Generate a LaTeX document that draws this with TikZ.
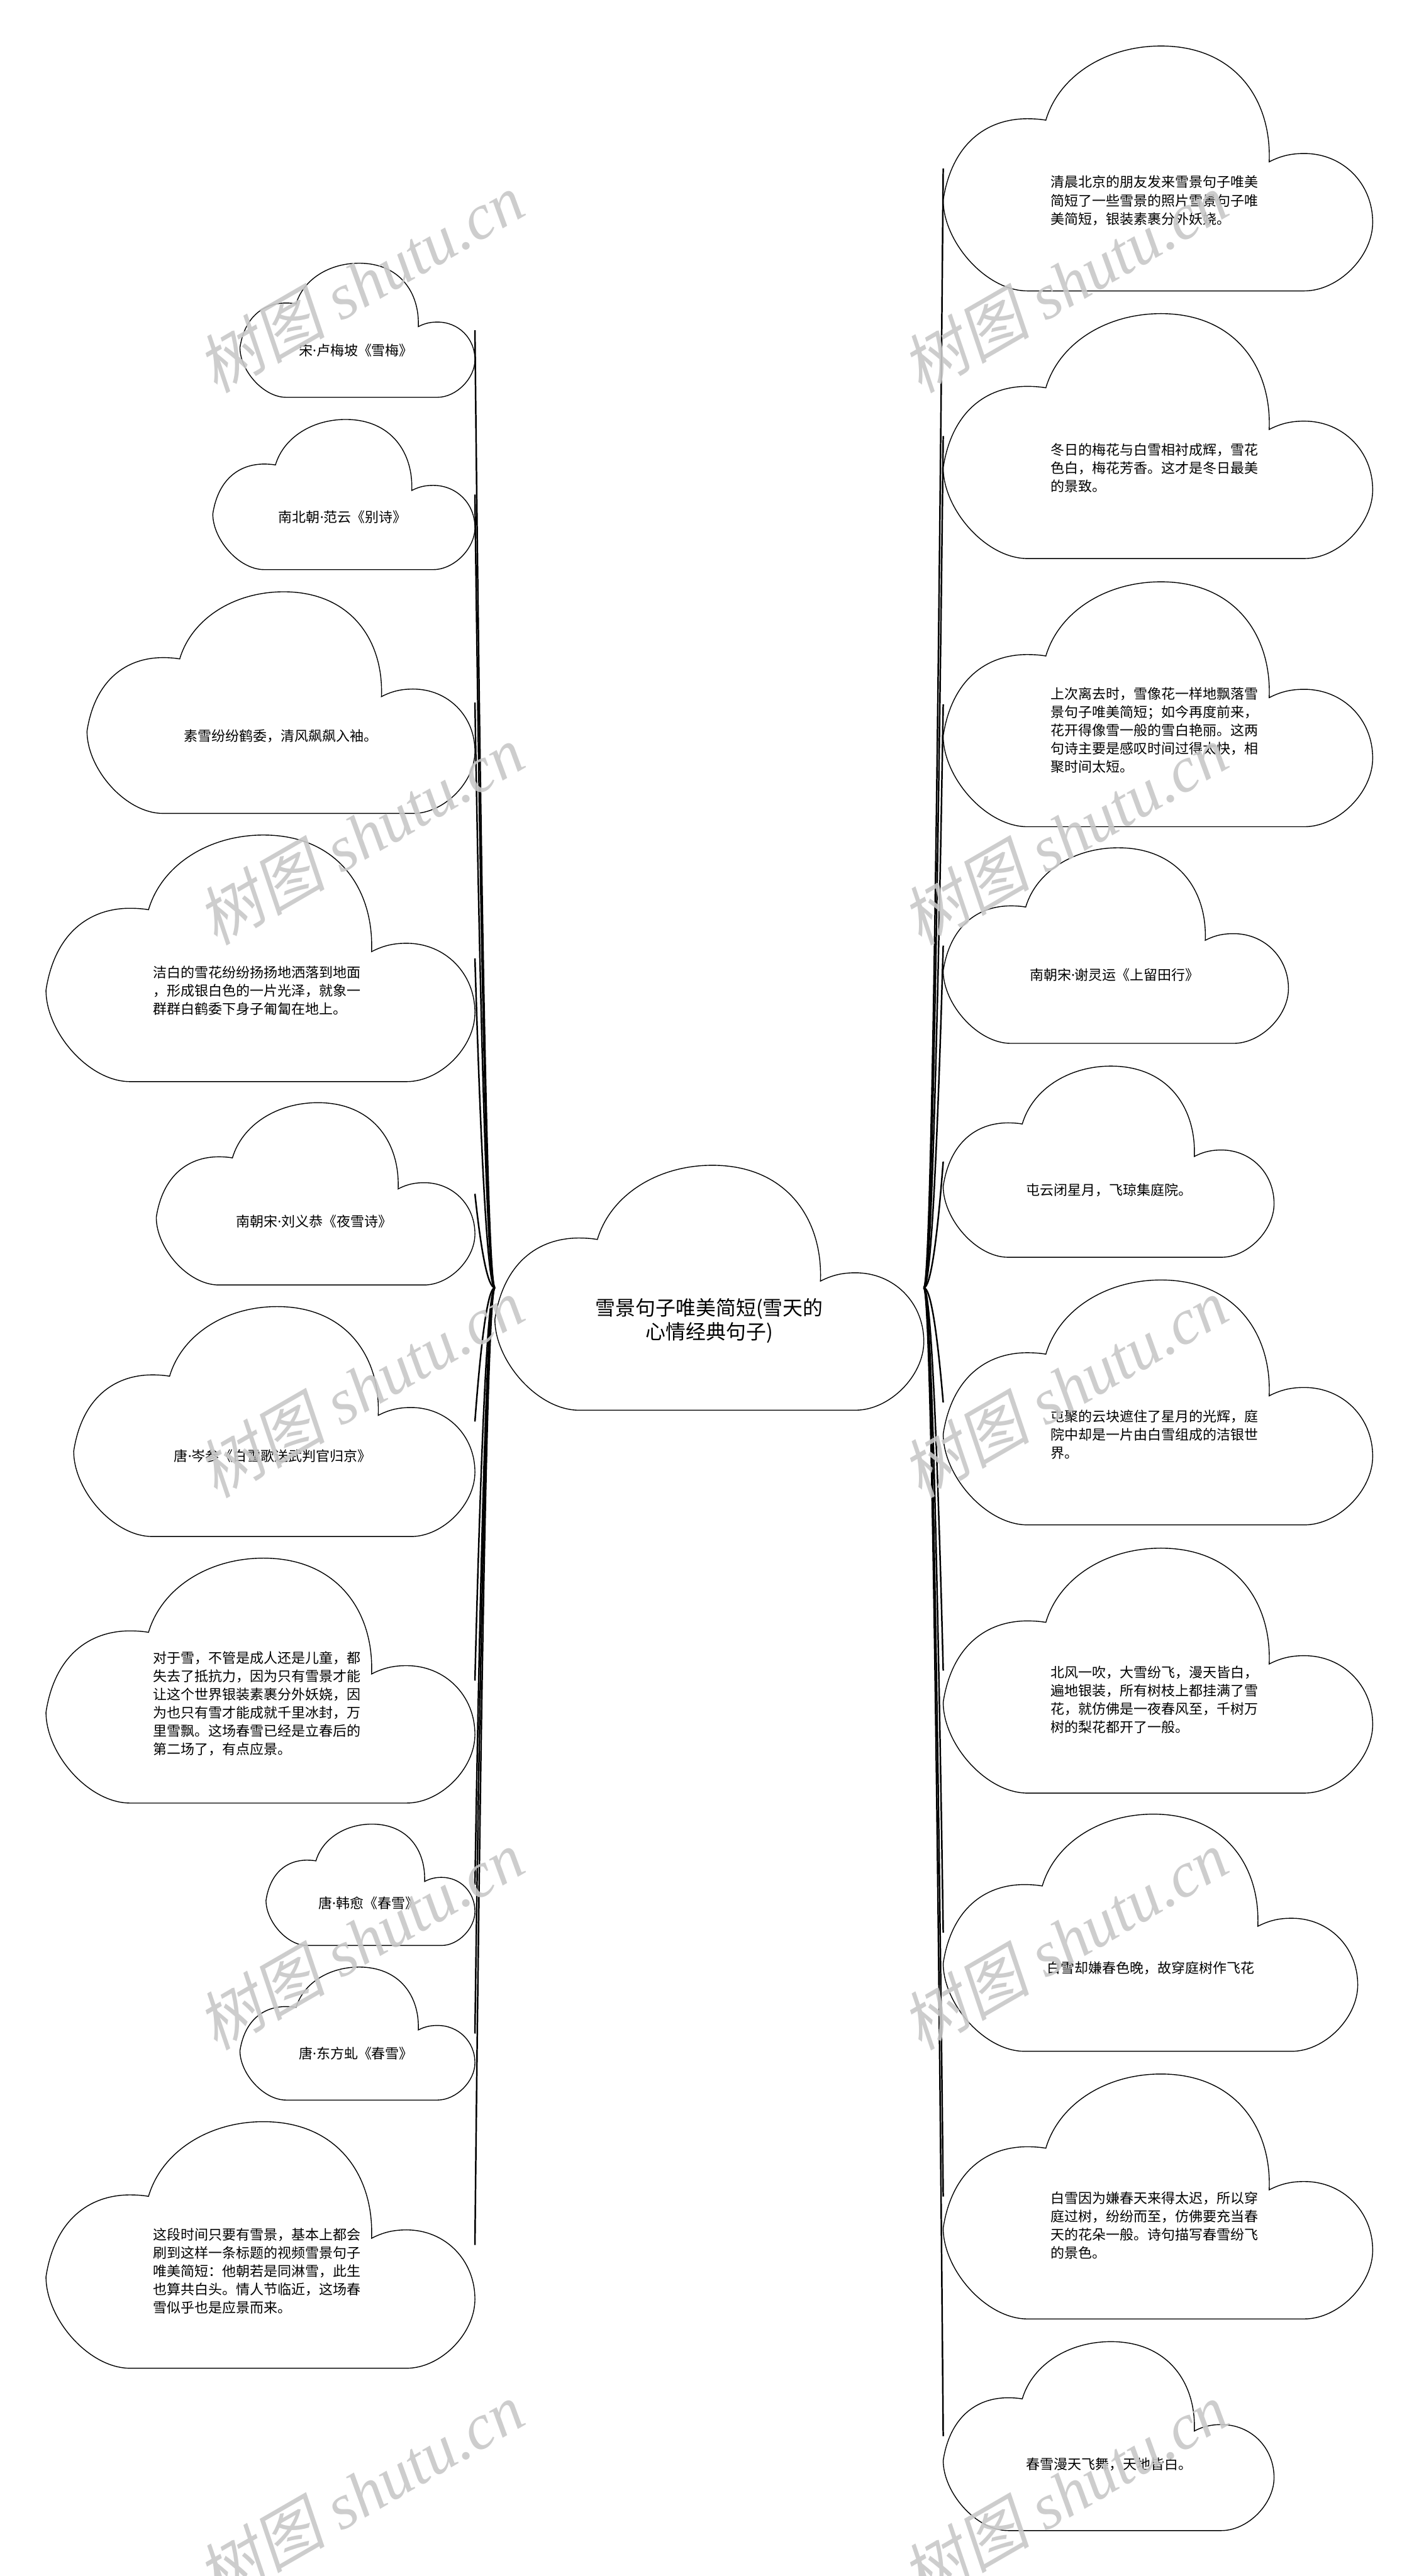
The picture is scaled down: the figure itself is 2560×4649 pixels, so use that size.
\documentclass[tikz,border=0pt]{standalone}
\usepackage{fontspec}
\setmainfont{Noto Sans CJK SC}
\newfontfamily\wmcjk[FakeSlant=0.2]{Noto Sans CJK SC}
\newfontfamily\wmlat{Liberation Serif}
\newfontfamily\latinf{Noto Sans}
\newcommand\md{{\latinf ·}}
\usetikzlibrary{calc}
\definecolor{wmgray}{RGB}{200,200,200}
\tikzset{
  cloudline/.style={draw=black, line width=0.9pt, fill=white},
  boxnode/.style={rectangle, draw=none, inner sep=0pt, outer sep=0pt},
  txt/.style={inner sep=0pt, align=left, font=\fontsize{14.2pt}{18.8pt}\selectfont},
  ctxt/.style={inner sep=0pt, align=center, font=\fontsize{20.6pt}{24.5pt}\selectfont},
  conn/.style={draw=black, line width=1.6pt},
  wm/.style={text=wmgray, inner sep=0pt, font=\fontsize{66pt}{70pt}\selectfont, rotate=30, opacity=0.9},
}
\newcommand\cloudpath{(0.239,0.303) .. controls (0.27,0.12) and (0.38,0) .. (0.507,0)
      .. controls (0.68,0) and (0.765,0.22) .. (0.759,0.473)
      .. controls (0.79,0.445) and (0.815,0.439) .. (0.841,0.439)
      .. controls (0.93,0.439) and (1,0.56) .. (1,0.72)
      .. controls (1,0.86) and (0.92,1) .. (0.841,1)
      -- (0.196,1)
      .. controls (0.1,1) and (0,0.8) .. (0,0.629)
      .. controls (0.02,0.40) and (0.1,0.297) .. (0.196,0.297)
      .. controls (0.215,0.297) and (0.23,0.3) .. (0.239,0.303) -- cycle}
% name, x1, y1, x2, y2, v, text
\newcommand\mycloud[7]{%
  \begin{scope}[shift={(#2,#3)},xscale=#4-#2,yscale=#5-#3]
    \draw[cloudline] \cloudpath;
  \end{scope}
  \node[boxnode,minimum width={(#4-#2)*0.02cm},minimum height={(#5-#3)*0.02cm}] (#1) at ({(#2+#4)/2},{(#3+#5)/2}) {};
  \node[txt,anchor=west] (#1t) at ({#2+0.25*(#4-#2)},{#3+#6*(#5-#3)}) {#7};
}
\newcommand\myconn[2]{%
  \coordinate (q) at ($(#1)!0.5!(#1 -| #2)$);
  \draw[conn] (#1) .. controls ($(#1)!0.6667!(q)$) and ($(#2)!0.6667!(q)$) .. (#2);
}
\begin{document}
\begin{tikzpicture}[x=0.02cm,y=-0.02cm]
\useasboundingbox (0,0) rectangle (2560,4649);
\fill[white] (0,0) rectangle (2560,4649);

% central
\begin{scope}[shift={(893,2103)},xscale=774,yscale=442]
  \draw[cloudline] \cloudpath;
\end{scope}
\node[boxnode,minimum width=15.48cm,minimum height=8.84cm] (C) at (1280,2324) {};
\node[ctxt] (Ct) at ({893+0.5*774},{2103+0.634*442}) {雪景句子唯美简短(雪天的\\心情经典句子)};

% left
\mycloud{L1}{433}{475}{857}{717}{0.65}{宋\md 卢梅坡《雪梅》}
\mycloud{L2}{384}{757}{857}{1028}{0.65}{南北朝\md 范云《别诗》}
\mycloud{L3}{157}{1068}{857}{1468}{0.65}{素雪纷纷鹤委，清风飙飙入袖。}
\mycloud{L4}{83}{1507}{857}{1952}{0.631}{洁白的雪花纷纷扬扬地洒落到地面\\，形成银白色的一片光泽，就象一\\群群白鹤委下身子匍匐在地上。}
\mycloud{L5}{282}{1990}{857}{2319}{0.65}{南朝宋\md 刘义恭《夜雪诗》}
\mycloud{L6}{133}{2358}{857}{2773}{0.65}{唐\md 岑参《白雪歌送武判官归京》}
\mycloud{L7}{83}{2812}{857}{3254}{0.594}{对于雪，不管是成人还是儿童，都\\失去了抵抗力，因为只有雪景才能\\让这个世界银装素裹分外妖娆，因\\为也只有雪才能成就千里冰封，万\\里雪飘。这场春雪已经是立春后的\\第二场了，有点应景。}
\mycloud{L8}{480}{3292}{857}{3511}{0.65}{唐\md 韩愈《春雪》}
\mycloud{L9}{433}{3550}{857}{3790}{0.65}{唐\md 东方虬《春雪》}
\mycloud{L10}{83}{3829}{857}{4274}{0.606}{这段时间只要有雪景，基本上都会\\刷到这样一条标题的视频雪景句子\\唯美简短：他朝若是同淋雪，此生\\也算共白头。情人节临近，这场春\\雪似乎也是应景而来。}

% right
\mycloud{R1}{1702}{83}{2477}{525}{0.631}{清晨北京的朋友发来雪景句子唯美\\简短了一些雪景的照片雪景句子唯\\美简短，银装素裹分外妖娆。}
\mycloud{R2}{1702}{566}{2477}{1008}{0.631}{冬日的梅花与白雪相衬成辉，雪花\\色白，梅花芳香。这才是冬日最美\\的景致。}
\mycloud{R3}{1702}{1050}{2477}{1492}{0.606}{上次离去时，雪像花一样地飘落雪\\景句子唯美简短；如今再度前来，\\花开得像雪一般的雪白艳丽。这两\\句诗主要是感叹时间过得太快，相\\聚时间太短。}
\mycloud{R4}{1702}{1530}{2325}{1883}{0.65}{南朝宋\md 谢灵运《上留田行》}
\mycloud{R5}{1702}{1924}{2299}{2269}{0.65}{屯云闭星月，飞琼集庭院。}
\mycloud{R6}{1702}{2310}{2477}{2752}{0.631}{屯聚的云块遮住了星月的光辉，庭\\院中却是一片由白雪组成的洁银世\\界。}
\mycloud{R7}{1702}{2794}{2477}{3236}{0.619}{北风一吹，大雪纷飞，漫天皆白，\\遍地银装，所有树枝上都挂满了雪\\花，就仿佛是一夜春风至，千树万\\树的梨花都开了一般。}
\mycloud{R8}{1702}{3274}{2450}{3702}{0.65}{白雪却嫌春色晚，故穿庭树作飞花}
\mycloud{R9}{1702}{3743}{2477}{4185}{0.619}{白雪因为嫌春天来得太迟，所以穿\\庭过树，纷纷而至，仿佛要充当春\\天的花朵一般。诗句描写春雪纷飞\\的景色。}
\mycloud{R10}{1702}{4226}{2299}{4567}{0.65}{春雪漫天飞舞，天地皆白。}

% connectors
\foreach \n in {L1,L2,L3,L4,L5,L6,L7,L8,L9,L10} {\myconn{C.west}{\n.east}}
\foreach \n in {R1,R2,R3,R4,R5,R6,R7,R8,R9,R10} {\myconn{C.east}{\n.west}}

% watermarks
\foreach \wy [count=\i] in {510,1507,2504,3501,4498} {
  \node[wm] (wa\i) at (650,\wy) {{\wmcjk 树图}\hspace{0.25em}{\wmlat\itshape shutu.cn}};
  \node[wm] (wb\i) at (1921,\wy) {{\wmcjk 树图}\hspace{0.25em}{\wmlat\itshape shutu.cn}};
}
\end{tikzpicture}
\end{document}
